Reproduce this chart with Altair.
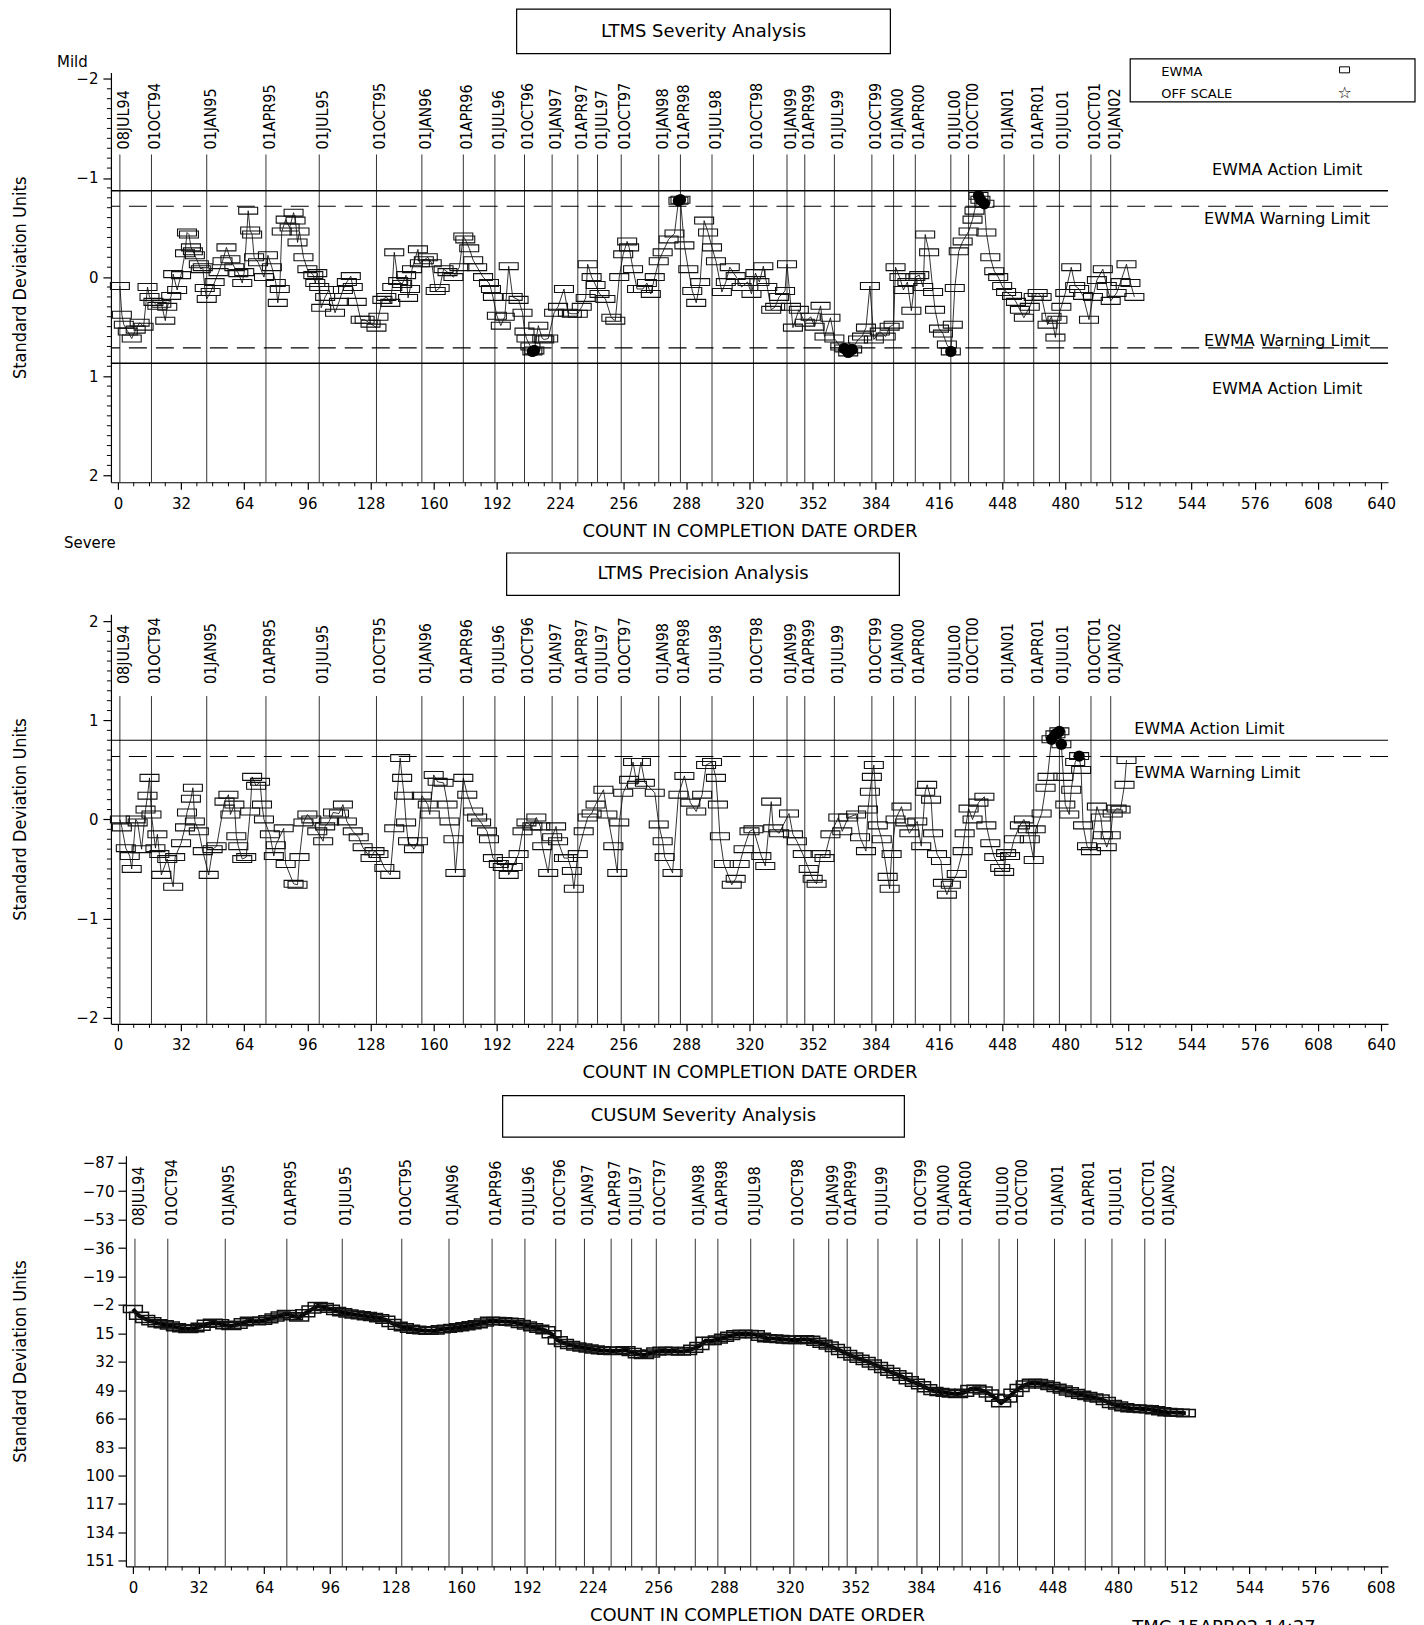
import altair as alt
import pandas as pd

# ---------------------------------------------------------------- data
date_labels = ["08JUL94", "01OCT94", "01JAN95", "01APR95", "01JUL95", "01OCT95",
               "01JAN96", "01APR96", "01JUL96", "01OCT96", "01JAN97", "01APR97",
               "01JUL97", "01OCT97", "01JAN98", "01APR98", "01JUL98", "01OCT98",
               "01JAN99", "01APR99", "01JUL99", "01OCT99", "01JAN00", "01APR00",
               "01JUL00", "01OCT00", "01JAN01", "01APR01", "01JUL01", "01OCT01",
               "01JAN02"]
date_counts = [1, 17, 45, 75, 102, 131, 154, 175, 191, 206, 220, 233, 243, 255,
               274, 285, 301, 322, 339, 348, 363, 382, 393, 404, 422, 431, 449,
               464, 477, 493, 503]

# LTMS severity EWMA (standard deviation units, + = severe)
sev_count = [1, 2, 3, 5, 7, 9, 11, 13, 15, 16,
             18, 20, 22, 24, 25, 27, 28, 30, 32, 34,
             35, 36, 37, 38, 39, 41, 42, 43, 44, 45,
             47, 49, 51, 53, 55, 57, 59, 61, 63, 64,
             66, 67, 68, 69, 71, 74, 76, 78, 80, 81,
             82, 83, 85, 87, 89, 90, 91, 92, 94, 96,
             99, 100, 101, 102, 103, 105, 107, 110, 112, 114,
             116, 118, 119, 121, 123, 125, 128, 131, 132, 134,
             136, 138, 139, 140, 142, 144, 146, 147, 148, 149,
             152, 153, 155, 157, 159, 161, 163, 165, 167, 170,
             173, 175, 176, 178, 180, 182, 185, 188, 189, 190,
             192, 194, 196, 198, 200, 203, 205, 206, 207, 209,
             210, 211, 213, 215, 216, 218, 221, 223, 226, 228,
             230, 233, 235, 237, 238, 240, 242, 244, 247, 250,
             252, 254, 256, 258, 259, 261, 263, 266, 268, 270,
             272, 274, 276, 279, 282, 284, 285, 287, 289, 291,
             293, 295, 297, 299, 301, 303, 306, 308, 310, 313,
             316, 319, 321, 323, 325, 327, 329, 331, 333, 335,
             338, 339, 341, 342, 345, 348, 351, 353, 356, 358,
             361, 363, 366, 368, 370, 372, 375, 377, 379, 381,
             383, 386, 389, 391, 393, 394, 396, 398, 400, 402,
             404, 406, 408, 409, 411, 413, 414, 416, 418, 420,
             422, 423, 424, 426, 428, 431, 433, 434, 436, 437,
             439, 440, 442, 444, 446, 448, 450, 453, 455, 457,
             459, 462, 464, 466, 468, 471, 473, 475, 476, 478,
             480, 483, 485, 487, 489, 492, 494, 496, 499, 501,
             503, 506, 508, 511, 513, 515]
sev_value = [0.09, 0.38, 0.48, 0.55, 0.62, 0.53, 0.46, 0.50, 0.10, 0.20,
             0.25, 0.29, 0.27, 0.44, 0.30, 0.19, -0.03, 0.13, -0.02, -0.24,
             -0.45, -0.43, -0.30, -0.26, -0.22, -0.13, -0.08, -0.10, 0.11, 0.22,
             0.15, 0.05, -0.05, -0.16, -0.30, -0.18, -0.10, -0.04, 0.06, -0.05,
             -0.67, -0.47, -0.43, -0.20, -0.15, 0.00, -0.22, -0.10, 0.06, 0.26,
             0.12, -0.46, -0.58, -0.50, -0.65, -0.57, -0.35, -0.46, -0.20, -0.08,
             -0.02, 0.06, -0.04, 0.10, 0.31, 0.20, 0.13, 0.36, 0.25, 0.13,
             0.05, -0.01, 0.10, 0.25, 0.43, 0.43, 0.47, 0.51, 0.40, 0.23,
             0.20, 0.26, 0.10, -0.25, 0.04, 0.07, -0.02, 0.21, 0.12, -0.08,
             -0.28, -0.14, -0.17, -0.20, -0.14, 0.14, 0.11, -0.08, -0.05, 0.00,
             -0.10, -0.41, -0.38, -0.29, -0.17, -0.10, 0.00, 0.06, 0.12, 0.20,
             0.39, 0.49, 0.40, -0.11, 0.20, 0.23, 0.36, 0.55, 0.62, 0.70,
             0.75, 0.74, 0.49, 0.62, 0.63, 0.62, 0.36, 0.30, 0.12, 0.36,
             0.37, 0.37, 0.30, 0.21, -0.13, 0.00, 0.08, 0.17, 0.22, 0.41,
             0.44, 0.00, -0.23, -0.36, -0.30, -0.08, 0.12, 0.12, 0.06, 0.17,
             0.00, -0.16, -0.25, -0.38, -0.44, -0.77, -0.78, -0.32, -0.08, 0.14,
             0.26, 0.05, -0.57, -0.45, -0.30, -0.16, 0.15, 0.05, -0.10, -0.01,
             0.10, 0.05, 0.17, -0.04, 0.05, -0.11, 0.10, 0.33, 0.30, 0.20,
             0.14, -0.13, 0.30, 0.51, 0.33, 0.46, 0.40, 0.50, 0.29, 0.60,
             0.41, 0.62, 0.70, 0.72, 0.76, 0.73, 0.63, 0.60, 0.51, 0.09,
             0.63, 0.55, 0.60, 0.50, 0.48, -0.10, 0.00, 0.13, 0.05, 0.34,
             0.00, -0.02, 0.10, -0.43, -0.25, 0.15, 0.33, 0.52, 0.57, 0.68,
             0.75, 0.48, 0.11, -0.26, -0.36, -0.46, -0.58, -0.67, -0.82, -0.78,
             -0.74, -0.45, -0.20, -0.06, 0.00, 0.09, 0.15, 0.19, 0.25, 0.33,
             0.41, 0.30, 0.20, 0.16, 0.20, 0.48, 0.40, 0.61, 0.43, 0.30,
             0.16, -0.10, 0.09, 0.12, 0.19, 0.43, 0.20, 0.03, -0.08, 0.09,
             0.24, 0.16, 0.05, -0.13, 0.06, 0.20]

# LTMS precision EWMA
prec_count = [1, 2, 4, 6, 7, 9, 10, 12, 14, 15,
              16, 17, 19, 20, 21, 22, 25, 28, 29, 32,
              34, 35, 37, 38, 39, 41, 43, 46, 48, 50,
              54, 56, 57, 59, 60, 61, 63, 65, 67, 68,
              70, 72, 73, 74, 77, 79, 80, 84, 85, 89,
              91, 92, 94, 96, 98, 101, 104, 105, 107, 109,
              112, 114, 116, 119, 122, 124, 128, 130, 132, 135,
              138, 140, 143, 144, 145, 146, 147, 150, 152, 154,
              157, 158, 160, 162, 165, 167, 168, 170, 171, 175,
              177, 180, 182, 184, 187, 188, 190, 193, 195, 197,
              198, 200, 203, 205, 207, 210, 212, 214, 215, 218,
              220, 222, 223, 226, 228, 230, 231, 233, 236, 238,
              240, 242, 246, 248, 251, 253, 254, 256, 259, 261,
              263, 265, 267, 272, 274, 276, 277, 281, 284, 287,
              290, 293, 296, 298, 301, 303, 304, 305, 307, 311,
              313, 315, 317, 320, 322, 326, 328, 331, 332, 335,
              340, 342, 344, 347, 350, 352, 354, 356, 358, 361,
              365, 367, 370, 374, 376, 379, 380, 381, 382, 383,
              385, 387, 390, 391, 392, 394, 397, 399, 401, 405,
              407, 409, 410, 412, 413, 415, 417, 418, 420, 422,
              425, 428, 429, 431, 433, 436, 439, 440, 442, 444,
              447, 449, 450, 452, 454, 457, 459, 461, 462, 464,
              465, 468, 470, 471, 473, 475, 477, 478, 479, 480,
              482, 483, 485, 487, 488, 489, 491, 493, 496, 498,
              499, 501, 503, 504, 506, 508, 510, 511]
prec_value = [0.00, -0.08, -0.29, -0.37, -0.50, 0.00, -0.03, -0.30, 0.10, 0.24,
              0.42, 0.05, -0.29, -0.15, -0.35, -0.56, -0.40, -0.68, -0.38, -0.24,
              -0.08, 0.07, 0.21, 0.32, -0.02, -0.12, -0.32, -0.56, -0.30, -0.27,
              0.18, 0.25, 0.05, 0.15, -0.17, -0.27, -0.40, -0.38, 0.08, 0.43,
              0.34, 0.38, 0.15, 0.00, -0.15, -0.37, -0.26, -0.09, -0.45, -0.65,
              -0.66, -0.38, -0.03, 0.05, 0.00, -0.12, -0.22, -0.07, -0.02, 0.07,
              0.06, 0.15, -0.02, -0.12, -0.18, -0.28, -0.39, -0.32, -0.35, -0.49,
              -0.56, -0.09, 0.62, 0.42, 0.24, -0.03, -0.22, -0.30, -0.22, 0.24,
              0.15, 0.05, 0.45, 0.38, 0.37, 0.15, -0.02, -0.20, -0.54, 0.42,
              0.25, 0.08, 0.02, -0.03, -0.12, -0.20, -0.39, -0.45, -0.48, -0.42,
              -0.56, -0.48, -0.35, -0.12, -0.03, -0.07, 0.02, -0.07, -0.27, -0.54,
              -0.18, -0.07, -0.22, -0.39, -0.39, -0.52, -0.70, -0.35, -0.12, 0.02,
              0.06, 0.15, 0.30, 0.05, -0.27, -0.54, -0.03, 0.27, 0.40, 0.58,
              0.35, 0.58, 0.37, 0.27, -0.05, -0.22, -0.38, -0.54, 0.25, 0.44,
              0.17, 0.08, 0.25, 0.55, 0.58, 0.42, 0.15, -0.17, -0.45, -0.66,
              -0.60, -0.45, -0.30, -0.12, -0.10, -0.37, -0.47, 0.18, -0.09, -0.14,
              0.06, -0.15, -0.22, -0.35, -0.50, -0.60, -0.65, -0.35, -0.39, -0.15,
              0.02, -0.12, 0.02, 0.05, -0.18, -0.32, 0.10, 0.28, 0.43, 0.55,
              -0.06, -0.20, -0.58, -0.70, -0.35, 0.00, 0.13, -0.03, -0.14, -0.02,
              -0.27, 0.28, 0.35, 0.20, -0.14, -0.35, -0.42, -0.64, -0.76, -0.66,
              -0.55, -0.32, -0.14, 0.11, 0.00, 0.17, 0.23, -0.06, -0.24, -0.38,
              -0.49, -0.53, -0.34, -0.37, -0.20, -0.06, 0.00, -0.10, -0.20, -0.41,
              -0.10, 0.06, 0.32, 0.43, 0.81, 0.86, 0.89, 0.76, 0.43, 0.15,
              0.05, 0.30, 0.58, 0.64, 0.50, -0.06, -0.27, -0.32, 0.13, 0.02,
              -0.16, -0.28, -0.16, 0.06, 0.11, 0.10, 0.35, 0.60]

# CUSUM severity
cusum_count = list(range(0, 514, 3))
cusum_value = [0.5, 4.5, 6.4, 7.8, 8.9, 9.6, 10.3, 11.3, 12.0, 12.4,
               12.0, 11.0, 9.3, 8.7, 9.0, 10.2, 10.6, 9.8, 8.4, 7.5,
               7.7, 7.5, 6.5, 5.5, 4.3, 3.4, 4.8, 5.5, 3.0, 0.8,
               -1.4, -0.8, 0.3, 1.6, 2.4, 3.1, 3.7, 4.2, 4.7, 5.2,
               5.9, 6.8, 8.8, 10.4, 11.4, 12.2, 12.8, 13.2, 13.5, 13.3,
               12.6, 12.2, 11.8, 11.3, 10.8, 10.2, 9.6, 8.5, 7.5, 7.6,
               7.7, 8.0, 8.4, 9.4, 10.3, 11.4, 12.3, 13.2, 15.5, 19.2,
               20.8, 21.9, 22.8, 23.5, 24.0, 24.6, 25.1, 25.4, 25.6, 25.4,
               25.1, 26.2, 27.5, 28.0, 27.0, 25.8, 25.4, 25.6, 25.6, 25.8,
               25.6, 24.2, 22.6, 19.5, 19.6, 18.7, 17.6, 16.5, 15.6, 15.3,
               15.4, 15.6, 17.0, 17.9, 18.1, 18.4, 18.7, 19.0, 18.9, 18.5,
               18.9, 20.0, 21.2, 22.2, 23.8, 25.5, 27.3, 28.9, 30.2, 31.5,
               33.0, 34.5, 36.3, 38.0, 39.5, 41.0, 43.0, 44.5, 46.0, 47.8,
               49.5, 50.0, 50.5, 50.9, 51.2, 50.5, 48.3, 48.2, 49.2, 51.0,
               53.5, 56.8, 54.0, 50.5, 47.7, 45.6, 44.6, 44.7, 45.6, 46.5,
               47.6, 48.6, 49.7, 50.7, 51.7, 52.5, 53.3, 54.0, 55.5, 57.3,
               58.2, 59.2, 59.8, 60.0, 60.2, 60.4, 61.0, 61.6, 62.1, 62.3,
               62.5, 62.7]

assert len(sev_count) == len(sev_value)
assert len(prec_count) == len(prec_value)
assert len(cusum_count) == len(cusum_value)

sev_action_limit = 0.87
sev_warning_limit = 0.715
prec_action_limit = 0.80
prec_warning_limit = 0.636

x_ticks_ewma = [0, 32, 64, 96, 128, 160, 192, 224, 256, 288, 320, 352, 384,
                416, 448, 480, 512, 544, 576, 608, 640]
x_ticks_cusum = [0, 32, 64, 96, 128, 160, 192, 224, 256, 288, 320, 352, 384,
                 416, 448, 480, 512, 544, 576, 608]
y_ticks_ewma = [-2, -1, 0, 1, 2]
y_ticks_cusum = [-87, -70, -53, -36, -19, -2, 15, 32, 49, 66, 83, 100, 117, 134, 151]
x_minor_ewma = [v for v in range(0, 641, 8) if v % 32]
x_minor_cusum = [v for v in range(0, 609, 8) if v % 32]
y_minor_ewma = [round(-2 + 0.1 * i, 1) for i in range(41) if i % 10]

title1 = "LTMS Severity Analysis"
title2 = "LTMS Precision Analysis"
title3 = "CUSUM Severity Analysis"
x_title = "COUNT IN COMPLETION DATE ORDER"
y_title = "Standard Deviation Units"
action_label = "EWMA Action Limit"
warning_label = "EWMA Warning Limit"
legend_labels = ["EWMA", "OFF SCALE"]
legend_star = "☆"
mild_label = "Mild"
severe_label = "Severe"
footer_label = "TMC 15APR02 14:27"

# ---------------------------------------------------------------- style
W = 1278
H = 410
H3 = 411
GEO = "DejaVu Sans"
NARROW = "DejaVu Sans Condensed, Roboto, sans-serif"
ONE = pd.DataFrame({"k": [0]})
dates_df = pd.DataFrame({"count": date_counts, "label": date_labels})


def text_at(t, x, y, size=16, align="center", baseline="middle", font=GEO):
    return alt.Chart(pd.DataFrame({"t": [t]})).mark_text(
        align=align, baseline=baseline, fontSize=size, font=font, color="black"
    ).encode(x=alt.value(x), y=alt.value(y), text="t:N")


def box_at(x1, x2, y1, y2, sw=1.2):
    return alt.Chart(ONE).mark_rect(fillOpacity=0, stroke="black", strokeWidth=sw).encode(
        x=alt.value(x1), x2=alt.value(x2), y=alt.value(y1), y2=alt.value(y2))


def anchor(x1, x2, y1, y2):
    # invisible frame that fixes the outer extent of the drawing
    return alt.Chart(ONE).mark_rect(fillOpacity=0, strokeOpacity=0).encode(
        x=alt.value(x1), x2=alt.value(x2), y=alt.value(y1), y2=alt.value(y2))


def x_axis(values):
    return alt.Axis(values=values, title=x_title, titleFont=GEO, titleFontSize=18,
                    titleFontWeight="normal", titleY=49, titleBaseline="middle",
                    labelFont=GEO, labelFontSize=15, labelPadding=7, tickSize=7,
                    labelFlush=False, grid=False, format="d")


def y_axis(values, title_x, height, label_pad=5, offset=0):
    return alt.Axis(values=values, title=y_title, titleFont=NARROW, titleFontSize=18,
                    titleFontWeight="normal", titleAngle=270, titleAlign="center",
                    titleBaseline="top", titleX=title_x, titleY=height / 2,
                    labelFont=GEO, labelFontSize=15, labelPadding=label_pad, tickSize=8,
                    grid=False, format="d", offset=offset)


class Panel:
    def __init__(self, xs, xax, ys, yax):
        self.xs, self.xax, self.ys, self.yax = xs, xax, ys, yax

    def X(self, field):
        return alt.X(f"{field}:Q", scale=self.xs, axis=self.xax)

    def Y(self, field):
        return alt.Y(f"{field}:Q", scale=self.ys, axis=self.yax)


def series_layers(P, df, half_w, half_h, off_expr, box_sw=1.1, line_w=0.8):
    X, Y = P.X("count"), P.Y("v")
    line = alt.Chart(df).mark_line(color="black", strokeWidth=line_w).encode(x=X, y=Y)
    boxes = alt.Chart(df).transform_calculate(
        xa=f"datum.count - {half_w}", xb=f"datum.count + {half_w}",
        ya=f"datum.v - {half_h}", yb=f"datum.v + {half_h}"
    ).mark_rect(fillOpacity=0, stroke="#111111", strokeWidth=box_sw).encode(
        x=P.X("xa"), x2="xb:Q", y=P.Y("ya"), y2="yb:Q")
    layers = [line, boxes]
    if off_expr:
        off = alt.Chart(df).transform_filter(off_expr).mark_point(
            shape="circle", filled=True, color="black", size=130, opacity=1).encode(x=X, y=Y)
        layers.append(off)
    return layers


def date_layers(P, label_y, line_y, height):
    X = P.X("count")
    rules = alt.Chart(dates_df).mark_rule(color="#333333", strokeWidth=1).encode(
        x=X, y=alt.value(line_y), y2=alt.value(height))
    labels = alt.Chart(dates_df).mark_text(
        angle=270, align="left", baseline="middle", dy=4, font=NARROW, fontSize=16,
        color="black").encode(x=X, y=alt.value(label_y), text="label:N")
    return [rules, labels]


# ---------------------------------------------------------------- panel 1
P1 = Panel(alt.Scale(domain=[-3.54, 643.5], nice=False, zero=False), x_axis(x_ticks_ewma),
           alt.Scale(domain=[-2.064, 2.07], reverse=True, nice=False, zero=False),
           y_axis(y_ticks_ewma, -99, H))
sev_df = pd.DataFrame({"count": sev_count, "v": sev_value})

p1_layers = [anchor(-103, W, -63.5, 470)]
p1_layers += date_layers(P1, 77, 82, H)
p1_layers += [
    alt.Chart(pd.DataFrame({"count": x_minor_ewma})).mark_rule(color="black").encode(
        x=P1.X("count"), y=alt.value(H), y2=alt.value(H + 4)),
    alt.Chart(pd.DataFrame({"v": y_minor_ewma})).mark_rule(color="black").encode(
        y=P1.Y("v"), x=alt.value(-4), x2=alt.value(0)),
    alt.Chart(pd.DataFrame({"v": [-sev_action_limit, sev_action_limit]})).mark_rule(
        color="black", strokeWidth=1.5).encode(y=P1.Y("v")),
    alt.Chart(pd.DataFrame({"v": [-sev_warning_limit, sev_warning_limit]})).mark_rule(
        color="black", strokeWidth=1.2, strokeDash=[18, 9]).encode(y=P1.Y("v")),
]
p1_layers += series_layers(P1, sev_df, 4.8, 0.035, f"abs(datum.v) > {sev_warning_limit}")
for val, dy, lab in [(-sev_action_limit, -20.5, action_label),
                     (-sev_warning_limit, 13, warning_label),
                     (sev_warning_limit, -6.5, warning_label),
                     (sev_action_limit, 26, action_label)]:
    p1_layers.append(
        alt.Chart(pd.DataFrame({"v": [val], "t": [lab]})).mark_text(
            align="center", baseline="middle", dy=dy, font=GEO, fontSize=16,
            color="black").encode(y=P1.Y("v"), x=alt.value(1177), text="t:N"))
p1_layers += [
    box_at(406, 780, -63.4, -19),
    text_at(title1, 593, -40.7, size=18),
    text_at(mild_label, -54, -10.7, size=15, align="left"),
    text_at(severe_label, -47, 471, size=15, align="left"),
    box_at(1020, 1305, -13.7, 29.3),
    text_at(legend_labels[0], 1051, -0.5, size=13, align="left"),
    text_at(legend_labels[1], 1051, 21.3, size=13, align="left"),
    box_at(1229.5, 1239.5, -5.7, 0.3, sw=1),
    text_at(legend_star, 1234.5, 20.5, size=16),
]
p1 = alt.layer(*p1_layers).properties(width=W, height=H)

# ---------------------------------------------------------------- panel 2
P2 = Panel(P1.xs, P1.xax,
           alt.Scale(domain=[-2.065, 2.074], nice=False, zero=False),
           y_axis(y_ticks_ewma, -99, H))
prec_df = pd.DataFrame({"count": prec_count, "v": prec_value})

p2_layers = [anchor(-103, W, 0, H)]
p2_layers += date_layers(P2, 70, 82, H)
p2_layers += [
    alt.Chart(pd.DataFrame({"count": x_minor_ewma})).mark_rule(color="black").encode(
        x=P2.X("count"), y=alt.value(H), y2=alt.value(H + 4)),
    alt.Chart(pd.DataFrame({"v": y_minor_ewma})).mark_rule(color="black").encode(
        y=P2.Y("v"), x=alt.value(-4), x2=alt.value(0)),
    alt.Chart(pd.DataFrame({"v": [prec_action_limit]})).mark_rule(
        color="black", strokeWidth=1.2).encode(y=P2.Y("v")),
    alt.Chart(pd.DataFrame({"v": [prec_warning_limit]})).mark_rule(
        color="black", strokeWidth=1.2, strokeDash=[18, 9]).encode(y=P2.Y("v")),
]
p2_layers += series_layers(P2, prec_df, 4.8, 0.035, f"datum.v > {prec_warning_limit}")
for val, dy, lab in [(prec_action_limit, -11, action_label),
                     (prec_warning_limit, 17, warning_label)]:
    p2_layers.append(
        alt.Chart(pd.DataFrame({"v": [val], "t": [lab]})).mark_text(
            align="left", baseline="middle", dy=dy, font=GEO, fontSize=16,
            color="black").encode(y=P2.Y("v"), x=alt.value(1024), text="t:N"))
p2_layers += [
    box_at(396, 789, -61.2, -18.7),
    text_at(title2, 592.5, -40.2, size=18),
]
p2 = alt.layer(*p2_layers).properties(width=W, height=H)

# ---------------------------------------------------------------- panel 3
P3 = Panel(alt.Scale(domain=[-3.4, 611.5], range=[15, W], nice=False, zero=False),
           x_axis(x_ticks_cusum),
           alt.Scale(domain=[-91.2, 154.4], reverse=True, nice=False, zero=False),
           y_axis(y_ticks_cusum, -114, H3, label_pad=4, offset=-15))
cusum_df = pd.DataFrame({"count": cusum_count, "v": cusum_value})

p3_layers = [anchor(-103, W, 0, H3)]
p3_layers += date_layers(P3, 70, 83, H3)
p3_layers += [
    alt.Chart(pd.DataFrame({"count": x_minor_cusum})).mark_rule(color="black").encode(
        x=P3.X("count"), y=alt.value(H3), y2=alt.value(H3 + 4)),
]
p3_layers += series_layers(P3, cusum_df, 4.6, 2.1, None, box_sw=1.5, line_w=4)
p3_layers += [
    box_at(392, 794, -60.2, -18.7),
    text_at(title3, 593, -39.7, size=18),
    text_at(footer_label, 1022, 464, size=18, align="left", baseline="top"),
]
p3 = alt.layer(*p3_layers).properties(width=W, height=H3)

chart = alt.vconcat(p1, p2, p3, spacing=132, bounds="flush").properties(
    padding={"left": 0, "top": 0, "right": 0, "bottom": 0}
).configure_view(stroke=None).configure_axis(
    domainColor="black", tickColor="black", labelColor="black", titleColor="black",
    domainWidth=1.2, tickWidth=1.2
)

chart.save("out.html", embed_options={"renderer": "svg", "actions": False})
